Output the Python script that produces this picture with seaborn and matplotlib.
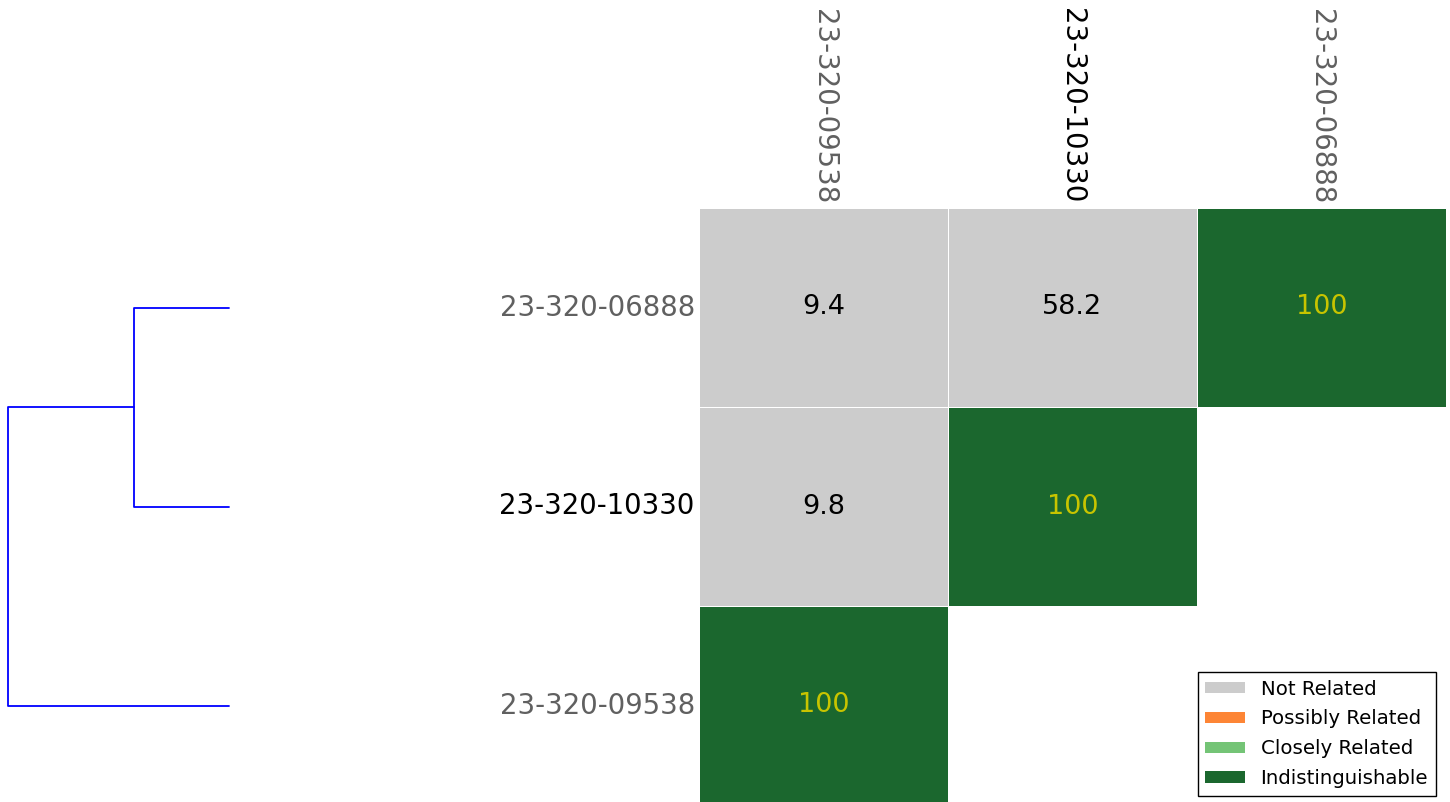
import numpy as np
import pandas as pd
import matplotlib
matplotlib.use("Agg")
import matplotlib.pyplot as plt
from matplotlib.colors import ListedColormap
from matplotlib.patches import Patch
import seaborn as sns

# ---- data ----
row_labels = ["23-320-06888", "23-320-10330", "23-320-09538"]
col_labels = ["23-320-09538", "23-320-10330", "23-320-06888"]
row_06888 = [9.4, 58.2, 100]
row_10330 = [9.8, 100, np.nan]
row_09538 = [100, np.nan, np.nan]
highlight = "23-320-10330"

categories = ["Not Related", "Possibly Related", "Closely Related", "Indistinguishable"]
cat_colors = ["#cccccc", "#fd8535", "#74c476", "#1b672e"]
cat_thresholds = [0, 90, 95, 99.5]

# dendrogram merge heights (distance)
merge_inner = 39.0   # 06888 + 10330
merge_root = 90.4    # (06888,10330) + 09538

# ---- figure ----
W, H = 1450, 802
sns.set_style("white")
plt.rcParams["text.color"] = "black"
fig = plt.figure(figsize=(W / 100, H / 100), dpi=100)

vals = pd.DataFrame([row_06888, row_10330, row_09538], index=row_labels, columns=col_labels)
codes = vals.apply(lambda c: c.map(lambda v: np.nan if pd.isna(v) else
                                   sum(v >= t for t in cat_thresholds) - 1))
annot = vals.map(lambda v: "" if pd.isna(v) else (f"{v:.0f}" if v == 100 else f"{v:.1f}"))

ax = fig.add_axes([699 / W, 1 - 805 / H, 747 / W, 597 / H])
sns.heatmap(codes, mask=vals.isna(), cmap=ListedColormap(cat_colors), vmin=-0.5, vmax=3.5,
            annot=annot, fmt="", cbar=False, linewidths=0.5, linecolor="white",
            annot_kws={"fontsize": 19.5}, ax=ax)
for t in ax.texts:
    t.set_color("#c8c400" if t.get_text() == "100" else "black")

ax.xaxis.tick_top()
ax.tick_params(length=0, pad=3)
ax.set_xticklabels(col_labels, rotation=-90, fontsize=19.8)
ax.set_yticklabels(row_labels, rotation=0, fontsize=19.8)
for lab in ax.get_xticklabels() + ax.get_yticklabels():
    lab.set_color("black" if lab.get_text() == highlight else "#606060")
ax.set_xlabel("")
ax.set_ylabel("")

# ---- dendrogram ----
dax = fig.add_axes([8 / W, 1 - 805 / H, 221 / W, 597 / H])
leaf_y = [0.5, 1.5, 2.5]
inner_y = (leaf_y[0] + leaf_y[1]) / 2
lc = "#0000ff"
lw = 1.3
dax.plot([0, merge_inner, merge_inner, 0], [leaf_y[0], leaf_y[0], leaf_y[1], leaf_y[1]],
         color=lc, lw=lw, clip_on=False)
dax.plot([merge_inner, merge_root, merge_root, 0], [inner_y, inner_y, leaf_y[2], leaf_y[2]],
         color=lc, lw=lw, clip_on=False)
dax.set_xlim(merge_root, 0)
dax.set_ylim(3, 0)
dax.axis("off")

# ---- legend ----
handles = [Patch(facecolor=c, edgecolor="none", label=l) for c, l in zip(cat_colors, categories)]
fig.legend(handles=handles, loc="lower right", bbox_to_anchor=(1436 / W, 1 - 796 / H),
           borderaxespad=0, fontsize=14.2, fancybox=False, edgecolor="black", framealpha=1,
           handlelength=2.0, handleheight=0.5, labelspacing=0.55, labelcolor="black")

fig.savefig("out.png", dpi=100)
